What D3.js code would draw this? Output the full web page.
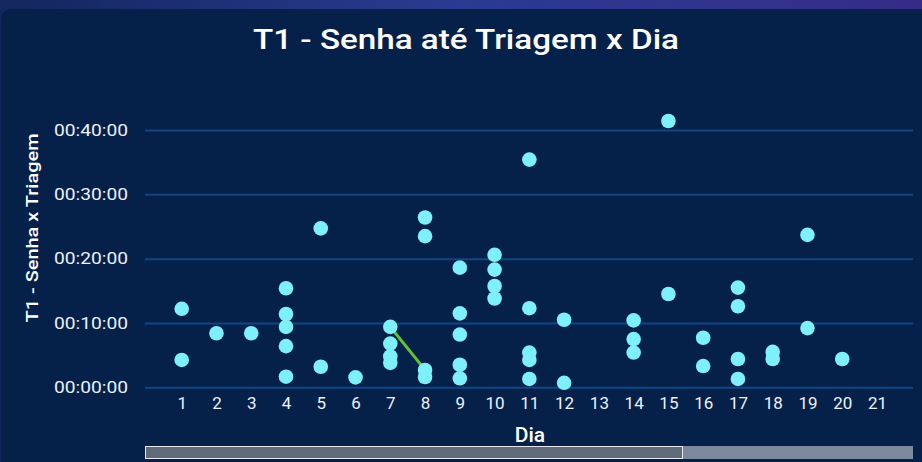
<!DOCTYPE html>
<html>
<head>
<meta charset="utf-8">
<script src="https://cdn.jsdelivr.net/npm/d3@7.9.0/dist/d3.min.js"></script>
<style>
  html, body { margin: 0; padding: 0; background: #0b1f4f; }
  svg { display: block; }
  .tick text { fill: #eef2f7; }
</style>
</head>
<body>
<svg id="chart" width="922" height="462"></svg>
<script>
// dia de cada ponto e tempo (minutos) da senha até a triagem
const dias = [1,1, 2, 3, 4,4,4,4,4, 5,5, 6, 7,7,7,7, 8,8,8,8, 9,9,9,9,9, 10,10,10,10,
  11,11,11,11,11, 12,12, 14,14,14, 15,15, 16,16, 17,17,17,17, 18,18, 19,19, 20];
const minutos = [12.2,4.25, 8.4, 8.4, 15.4,11.4,9.4,6.4,1.65, 24.7,3.2, 1.55, 9.4,6.8,4.8,3.8,
  26.4,23.5,2.7,1.6, 18.6,11.5,8.2,3.5,1.4, 20.6,18.3,15.75,13.8,
  35.4,12.3,5.4,4.25,1.3, 10.5,0.7, 10.4,7.5,5.4, 41.4,14.5, 7.7,3.3,
  15.5,12.6,4.4,1.3, 5.5,4.4, 23.7,9.2, 4.4];

// segmento verde entre o dia 7 e o dia 8
const linhaDias = [7, 8];
const linhaMinutos = [9.4, 2.7];

const xTicks = d3.range(1, 22);
const yTicks = [0, 10, 20, 30, 40];
const fmtTempo = m => '00:' + String(m).padStart(2, '0') + ':00';
const fonte = 'Roboto, sans-serif';

const svg = d3.select('#chart');

// fundo e cartão
const grad = svg.append('defs').append('linearGradient').attr('id', 'topo');
grad.append('stop').attr('offset', '0%').attr('stop-color', '#13265e');
grad.append('stop').attr('offset', '50%').attr('stop-color', '#2b3b92');
grad.append('stop').attr('offset', '100%').attr('stop-color', '#352c88');
svg.append('rect').attr('width', 922).attr('height', 462).attr('fill', 'url(#topo)');
svg.append('rect')
  .attr('x', 1).attr('y', 9).attr('width', 930).attr('height', 470)
  .attr('rx', 10).attr('fill', '#05214a');

const x = d3.scaleLinear().domain([1, 21]).range([181.7, 877]);
const y = d3.scaleLinear().domain([0, 40]).range([387.3, 130]);

// eixo Y com linhas de grade
const gy = svg.append('g')
  .attr('transform', 'translate(145,0)')
  .call(d3.axisLeft(y).tickValues(yTicks).tickFormat(fmtTempo)
    .tickSizeInner(-768).tickSizeOuter(0).tickPadding(17));
gy.select('.domain').remove();
gy.selectAll('.tick line').attr('stroke', '#0f4683').attr('stroke-width', 2);
gy.selectAll('.tick text')
  .attr('font-family', fonte).attr('font-size', 16)
  .attr('textLength', 74).attr('lengthAdjust', 'spacingAndGlyphs');

// eixo X
const gx = svg.append('g')
  .attr('transform', 'translate(0,387.3)')
  .call(d3.axisBottom(x).tickValues(xTicks).tickFormat(d3.format('d'))
    .tickSize(0).tickPadding(10));
gx.select('.domain').remove();
gx.selectAll('.tick text')
  .attr('font-family', fonte).attr('font-size', 17);

// segmento verde
svg.append('path')
  .datum(linhaDias.map((d, i) => [d, linhaMinutos[i]]))
  .attr('d', d3.line().x(d => x(d[0])).y(d => y(d[1])))
  .attr('stroke', '#5dc639').attr('stroke-width', 3).attr('fill', 'none');

// pontos
svg.append('g').selectAll('circle')
  .data(dias.map((d, i) => ({dia: d, min: minutos[i]})))
  .join('circle')
  .attr('cx', d => x(d.dia))
  .attr('cy', d => y(d.min))
  .attr('r', 7.3)
  .attr('fill', '#7ef0fb');

// títulos
svg.append('text')
  .attr('x', 466).attr('y', 49).attr('text-anchor', 'middle')
  .attr('font-family', fonte).attr('font-weight', 500)
  .attr('font-size', 27).attr('fill', '#ffffff')
  .attr('textLength', 426).attr('lengthAdjust', 'spacingAndGlyphs')
  .text('T1 - Senha até Triagem x Dia');

svg.append('text')
  .attr('transform', 'translate(38,228) rotate(-90)').attr('text-anchor', 'middle')
  .attr('font-family', fonte).attr('font-weight', 500)
  .attr('font-size', 17).attr('fill', '#ffffff')
  .attr('textLength', 189).attr('lengthAdjust', 'spacingAndGlyphs')
  .text('T1 - Senha x Triagem');

svg.append('text')
  .attr('x', 530).attr('y', 442).attr('text-anchor', 'middle')
  .attr('font-family', fonte).attr('font-weight', 500)
  .attr('font-size', 21).attr('fill', '#ffffff')
  .text('Dia');

// barra de rolagem
svg.append('rect')
  .attr('x', 145).attr('y', 446).attr('width', 768).attr('height', 13)
  .attr('fill', '#7d889c');
svg.append('rect')
  .attr('x', 145.5).attr('y', 446.5).attr('width', 537).attr('height', 12)
  .attr('fill', '#5f6b78').attr('stroke', '#e6e9ee').attr('stroke-width', 1);
</script>
</body>
</html>
